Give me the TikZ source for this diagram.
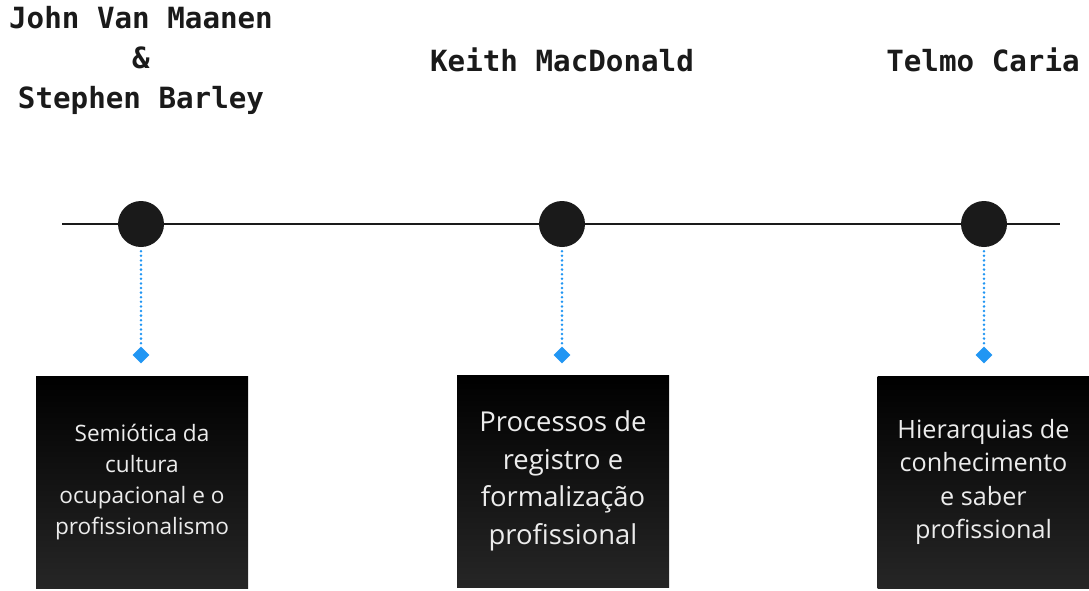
\documentclass[tikz,border=0pt]{standalone}
\usepackage{fontspec}
\setmainfont{Open Sans}
\newfontfamily\titlefont{DejaVu Sans Mono}
\usetikzlibrary{shapes.geometric}
\definecolor{axis}{HTML}{1A1A1A}
\definecolor{dotblue}{HTML}{2196F3}
\definecolor{boxtext}{HTML}{ECECEC}
\definecolor{boxlow}{HTML}{262626}
\tikzset{
  title/.style={font=\titlefont\bfseries\fontsize{29.2}{40}\selectfont, text=axis, align=center, inner sep=0pt},
  milestone/.style={circle, fill=axis, minimum size=46pt, inner sep=0pt},
  marker/.style={diamond, fill=dotblue, minimum size=17pt, inner sep=0pt},
  link/.style={dotblue, line width=2.8pt, line cap=round, dash pattern=on 0pt off 4.6pt},
  card/.style={rectangle, minimum width=212pt, minimum height=212pt, inner sep=0pt,
    top color=black, bottom color=boxlow, shading angle=0, text=boxtext, align=center},
}
\begin{document}
\begin{tikzpicture}[x=1pt, y=-1pt]
\useasboundingbox (0,0) rectangle (1089,590);

% headings
\node[title] (t1) at (141,60) {John Van Maanen\\\&\\Stephen Barley};
\node[title] (t2) at (562,60) {Keith MacDonald};
\node[title] (t3) at (983,60) {Telmo Caria};

% timeline axis
\coordinate (L) at (62,224);
\coordinate (R) at (1060,224);
\draw[axis, line width=2pt] (L) -- (R);

\node[milestone] (c1) at (141,224) {};
\node[milestone] (c2) at (562,224) {};
\node[milestone] (c3) at (984,224) {};

\node[marker] (d1) at (141,355) {};
\node[marker] (d2) at (562,355) {};
\node[marker] (d3) at (984,355) {};

\draw[link] (c1.south) ++(0,4) -- (d1.north);
\draw[link] (c2.south) ++(0,4) -- (d2.north);
\draw[link] (c3.south) ++(0,4) -- (d3.north);

% description cards
\node[card, font=\fontsize{22.6}{31}\selectfont] (b1) at (142,482)
  {Semiótica da\\cultura\\ocupacional e o\\profissionalismo};
\node[card, font=\fontsize{27.4}{37.7}\selectfont] (b2) at (563,481)
  {Processos de\\registro e\\formalização\\profissional};
\node[card, font=\fontsize{25.2}{33.3}\selectfont] (b3) at (983.5,482)
  {Hierarquias de\\conhecimento\\e saber\\profissional};
\end{tikzpicture}
\end{document}
